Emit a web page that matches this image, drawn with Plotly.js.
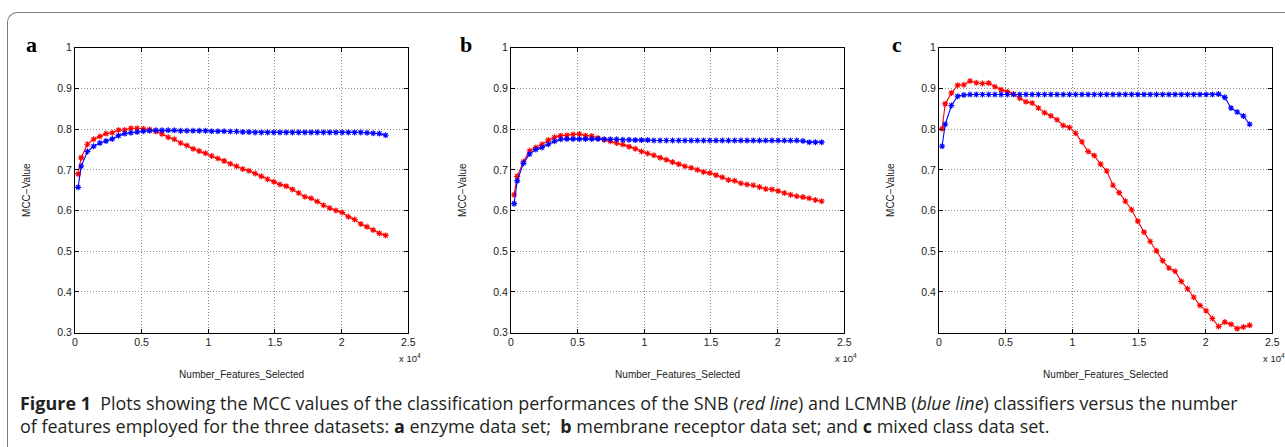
<!DOCTYPE html>
<html>
<head>
<meta charset="utf-8">
<script src="https://cdn.plot.ly/plotly-3.0.1.min.js"></script>
<style>
  html, body { margin: 0; padding: 0; background: #fff; }
  #wrap { position: relative; width: 1285px; height: 447px; overflow: hidden; background: #fff; }
  #frame { position: absolute; left: 7px; top: 12px; width: 1300px; height: 460px;
           border-top: 1.5px solid #7a7a7a; border-left: 1.5px solid #7a7a7a; border-top-left-radius: 10px; }
  #chart { position: absolute; left: 0; top: 0; width: 1285px; height: 447px; }
  #caption { position: absolute; left: 20px; top: 392px; font-family: "Open Sans", "Noto Sans", sans-serif;
             font-size: 17.95px; line-height: 23px; color: #231f20; white-space: nowrap; letter-spacing: 0px; }
</style>
</head>
<body>
<div id="wrap">
  <div id="frame"></div>
  <div id="chart"></div>
  <div id="caption">
    <div><b>Figure 1</b>&nbsp; Plots showing the MCC values of the classification performances of the SNB (<i>red line</i>) and LCMNB (<i>blue line</i>) classifiers versus the number</div>
    <div>of features employed for the three datasets: <b>a</b> enzyme data set;&nbsp; <b>b</b> membrane receptor data set; and <b>c</b> mixed class data set.</div>
  </div>
</div>
<script>
// Number of features selected (x positions of the points)
const featuresSelected = [233, 466, 932, 1398, 1864, 2330, 2796, 3262, 3728, 4194, 4660, 5126, 5592, 6058, 6524, 6990, 7456, 7922, 8388, 8854, 9320, 9786, 10252, 10718, 11184, 11650, 12116, 12582, 13048, 13514, 13980, 14446, 14912, 15378, 15844, 16310, 16776, 17242, 17708, 18174, 18640, 19106, 19572, 20038, 20504, 20970, 21436, 21902, 22368, 22834, 23300];

// Panel a: enzyme data set
const snbA = [0.690, 0.730, 0.763, 0.775, 0.782, 0.789, 0.791, 0.798, 0.798, 0.802, 0.802, 0.801, 0.799, 0.794, 0.788, 0.780, 0.775, 0.766, 0.760, 0.752, 0.746, 0.741, 0.734, 0.728, 0.722, 0.715, 0.709, 0.702, 0.698, 0.691, 0.684, 0.677, 0.671, 0.664, 0.660, 0.652, 0.643, 0.634, 0.630, 0.622, 0.613, 0.606, 0.600, 0.595, 0.585, 0.578, 0.567, 0.560, 0.552, 0.544, 0.539];
const lcmnbA = [0.657, 0.709, 0.745, 0.758, 0.766, 0.771, 0.776, 0.784, 0.789, 0.791, 0.793, 0.795, 0.796, 0.797, 0.797, 0.797, 0.797, 0.796, 0.796, 0.796, 0.796, 0.796, 0.795, 0.795, 0.795, 0.794, 0.794, 0.793, 0.793, 0.792, 0.792, 0.792, 0.792, 0.792, 0.792, 0.792, 0.792, 0.792, 0.792, 0.792, 0.792, 0.792, 0.792, 0.792, 0.792, 0.792, 0.792, 0.791, 0.790, 0.789, 0.785];

// Panel b: membrane receptor data set
const snbB = [0.639, 0.684, 0.720, 0.747, 0.755, 0.763, 0.773, 0.780, 0.784, 0.785, 0.787, 0.788, 0.784, 0.783, 0.778, 0.774, 0.770, 0.766, 0.762, 0.757, 0.752, 0.745, 0.740, 0.736, 0.730, 0.725, 0.719, 0.714, 0.709, 0.705, 0.700, 0.695, 0.692, 0.687, 0.682, 0.675, 0.673, 0.667, 0.664, 0.662, 0.658, 0.653, 0.652, 0.648, 0.643, 0.639, 0.635, 0.633, 0.630, 0.626, 0.623];
const lcmnbB = [0.617, 0.673, 0.716, 0.739, 0.750, 0.755, 0.763, 0.770, 0.775, 0.776, 0.776, 0.776, 0.776, 0.776, 0.776, 0.775, 0.775, 0.775, 0.774, 0.774, 0.773, 0.773, 0.773, 0.772, 0.772, 0.772, 0.772, 0.772, 0.772, 0.772, 0.772, 0.772, 0.772, 0.772, 0.772, 0.772, 0.772, 0.772, 0.772, 0.772, 0.772, 0.772, 0.772, 0.772, 0.772, 0.772, 0.772, 0.771, 0.768, 0.768, 0.768];

// Panel c: mixed class data set
const snbC = [0.801, 0.862, 0.889, 0.908, 0.909, 0.918, 0.914, 0.912, 0.913, 0.904, 0.897, 0.892, 0.886, 0.876, 0.867, 0.864, 0.852, 0.840, 0.833, 0.823, 0.809, 0.804, 0.790, 0.769, 0.745, 0.735, 0.714, 0.697, 0.662, 0.644, 0.623, 0.602, 0.574, 0.547, 0.524, 0.501, 0.477, 0.459, 0.451, 0.426, 0.408, 0.387, 0.367, 0.354, 0.335, 0.315, 0.326, 0.321, 0.310, 0.314, 0.318];
const lcmnbC = [0.758, 0.812, 0.858, 0.881, 0.884, 0.885, 0.885, 0.885, 0.885, 0.885, 0.885, 0.885, 0.885, 0.885, 0.885, 0.885, 0.885, 0.885, 0.885, 0.885, 0.885, 0.885, 0.885, 0.885, 0.885, 0.885, 0.885, 0.885, 0.885, 0.885, 0.885, 0.885, 0.885, 0.885, 0.885, 0.885, 0.885, 0.885, 0.885, 0.885, 0.885, 0.885, 0.885, 0.885, 0.885, 0.886, 0.878, 0.852, 0.842, 0.832, 0.812];

// Tick labels
const xTickVals = [0, 5000, 10000, 15000, 20000, 25000];
const xTickText = ['0', '0.5', '1', '1.5', '2', '2.5'];
const yTickValsAB = [0.3, 0.4, 0.5, 0.6, 0.7, 0.8, 0.9, 1];
const yTickTextAB = ['0.3', '0.4', '0.5', '0.6', '0.7', '0.8', '0.9', '1'];
const yTickValsC = [0.4, 0.5, 0.6, 0.7, 0.8, 0.9, 1];
const yTickTextC = ['0.4', '0.5', '0.6', '0.7', '0.8', '0.9', '1'];
const panelLabels = ['a', 'b', 'c'];
const xTitle = 'Number_Features_Selected';
const yTitle = 'MCC\u2212Value';
const xScaleLabel = 'x 10<sup>4</sup>';

const W = 1285, H = 447;
const plotTop = 47.7, plotBottom = 332.7;
const lefts = [75, 511, 939];
const rights = [408.3, 844.3, 1272.3];

const tickFont = { family: 'Liberation Sans, Arial, sans-serif', size: 10.5, color: '#1a1a1a' };
const titleFont = { family: 'Liberation Sans, Arial, sans-serif', size: 10, color: '#1a1a1a' };

function series(x, y, color, name, xa, ya) {
  return {
    x: x, y: y, type: 'scatter', mode: 'lines+markers', name: name,
    xaxis: xa, yaxis: ya, showlegend: false,
    line: { color: color, width: 1.1 },
    marker: { symbol: 'asterisk-open', size: 5, color: color, line: { color: color, width: 1.1 } }
  };
}

const data = [
  series(featuresSelected, snbA, '#ff0000', 'SNB', 'x', 'y'),
  series(featuresSelected, lcmnbA, '#0000ff', 'LCMNB', 'x', 'y'),
  series(featuresSelected, snbB, '#ff0000', 'SNB', 'x2', 'y2'),
  series(featuresSelected, lcmnbB, '#0000ff', 'LCMNB', 'x2', 'y2'),
  series(featuresSelected, snbC, '#ff0000', 'SNB', 'x3', 'y3'),
  series(featuresSelected, lcmnbC, '#0000ff', 'LCMNB', 'x3', 'y3')
];

function xAxis(i, anchor) {
  return {
    domain: [lefts[i] / W, rights[i] / W], anchor: anchor,
    range: [0, 25000], tickmode: 'array', tickvals: xTickVals, ticktext: xTickText,
    showline: true, linecolor: '#000', linewidth: 1, mirror: 'ticks',
    ticks: 'inside', ticklen: 4, tickcolor: '#000', tickwidth: 1,
    showgrid: true, gridcolor: '#8c8c8c', griddash: '1px,2px', gridwidth: 1,
    zeroline: false, tickfont: tickFont, automargin: false,
    title: { text: xTitle, font: titleFont, standoff: 23 }
  };
}
function yAxis(i, anchor, tv, tt, lo) {
  return {
    domain: [(H - plotBottom) / H, (H - plotTop) / H], anchor: anchor,
    range: [lo, 1], tickmode: 'array', tickvals: tv, ticktext: tt,
    showline: true, linecolor: '#000', linewidth: 1, mirror: 'ticks',
    ticks: 'inside', ticklen: 4, tickcolor: '#000', tickwidth: 1,
    showgrid: true, gridcolor: '#8c8c8c', griddash: '1px,2px', gridwidth: 1,
    zeroline: false, tickfont: tickFont, automargin: false,
    title: { text: yTitle, font: titleFont, standoff: 24 }
  };
}

const annotations = [];
const labelX = [31, 466, 897];
for (let i = 0; i < 3; i++) {
  annotations.push({
    xref: 'paper', yref: 'paper', x: labelX[i] / W, y: (H - 44) / H,
    xanchor: 'center', yanchor: 'middle', showarrow: false,
    text: '<b>' + panelLabels[i] + '</b>',
    font: { family: 'Liberation Serif, Times New Roman, serif', size: 22, color: '#000' }
  });
  annotations.push({
    xref: 'paper', yref: 'paper', x: (rights[i] + 2) / W, y: (H - 358) / H,
    xanchor: 'center', yanchor: 'middle', showarrow: false,
    text: xScaleLabel, font: { family: 'Liberation Sans, Arial, sans-serif', size: 9.5, color: '#1a1a1a' }
  });
}

const layout = {
  width: W, height: H,
  margin: { l: 0, r: 0, t: 0, b: 0 },
  paper_bgcolor: 'rgba(0,0,0,0)', plot_bgcolor: '#ffffff',
  showlegend: false,
  xaxis: xAxis(0, 'y'), yaxis: yAxis(0, 'x', yTickValsAB, yTickTextAB, 0.3),
  xaxis2: xAxis(1, 'y2'), yaxis2: yAxis(1, 'x2', yTickValsAB, yTickTextAB, 0.3),
  xaxis3: xAxis(2, 'y3'), yaxis3: yAxis(2, 'x3', yTickValsC, yTickTextC, 0.3),
  annotations: annotations
};

Plotly.newPlot('chart', data, layout, { displayModeBar: false, staticPlot: true });
</script>
</body>
</html>
